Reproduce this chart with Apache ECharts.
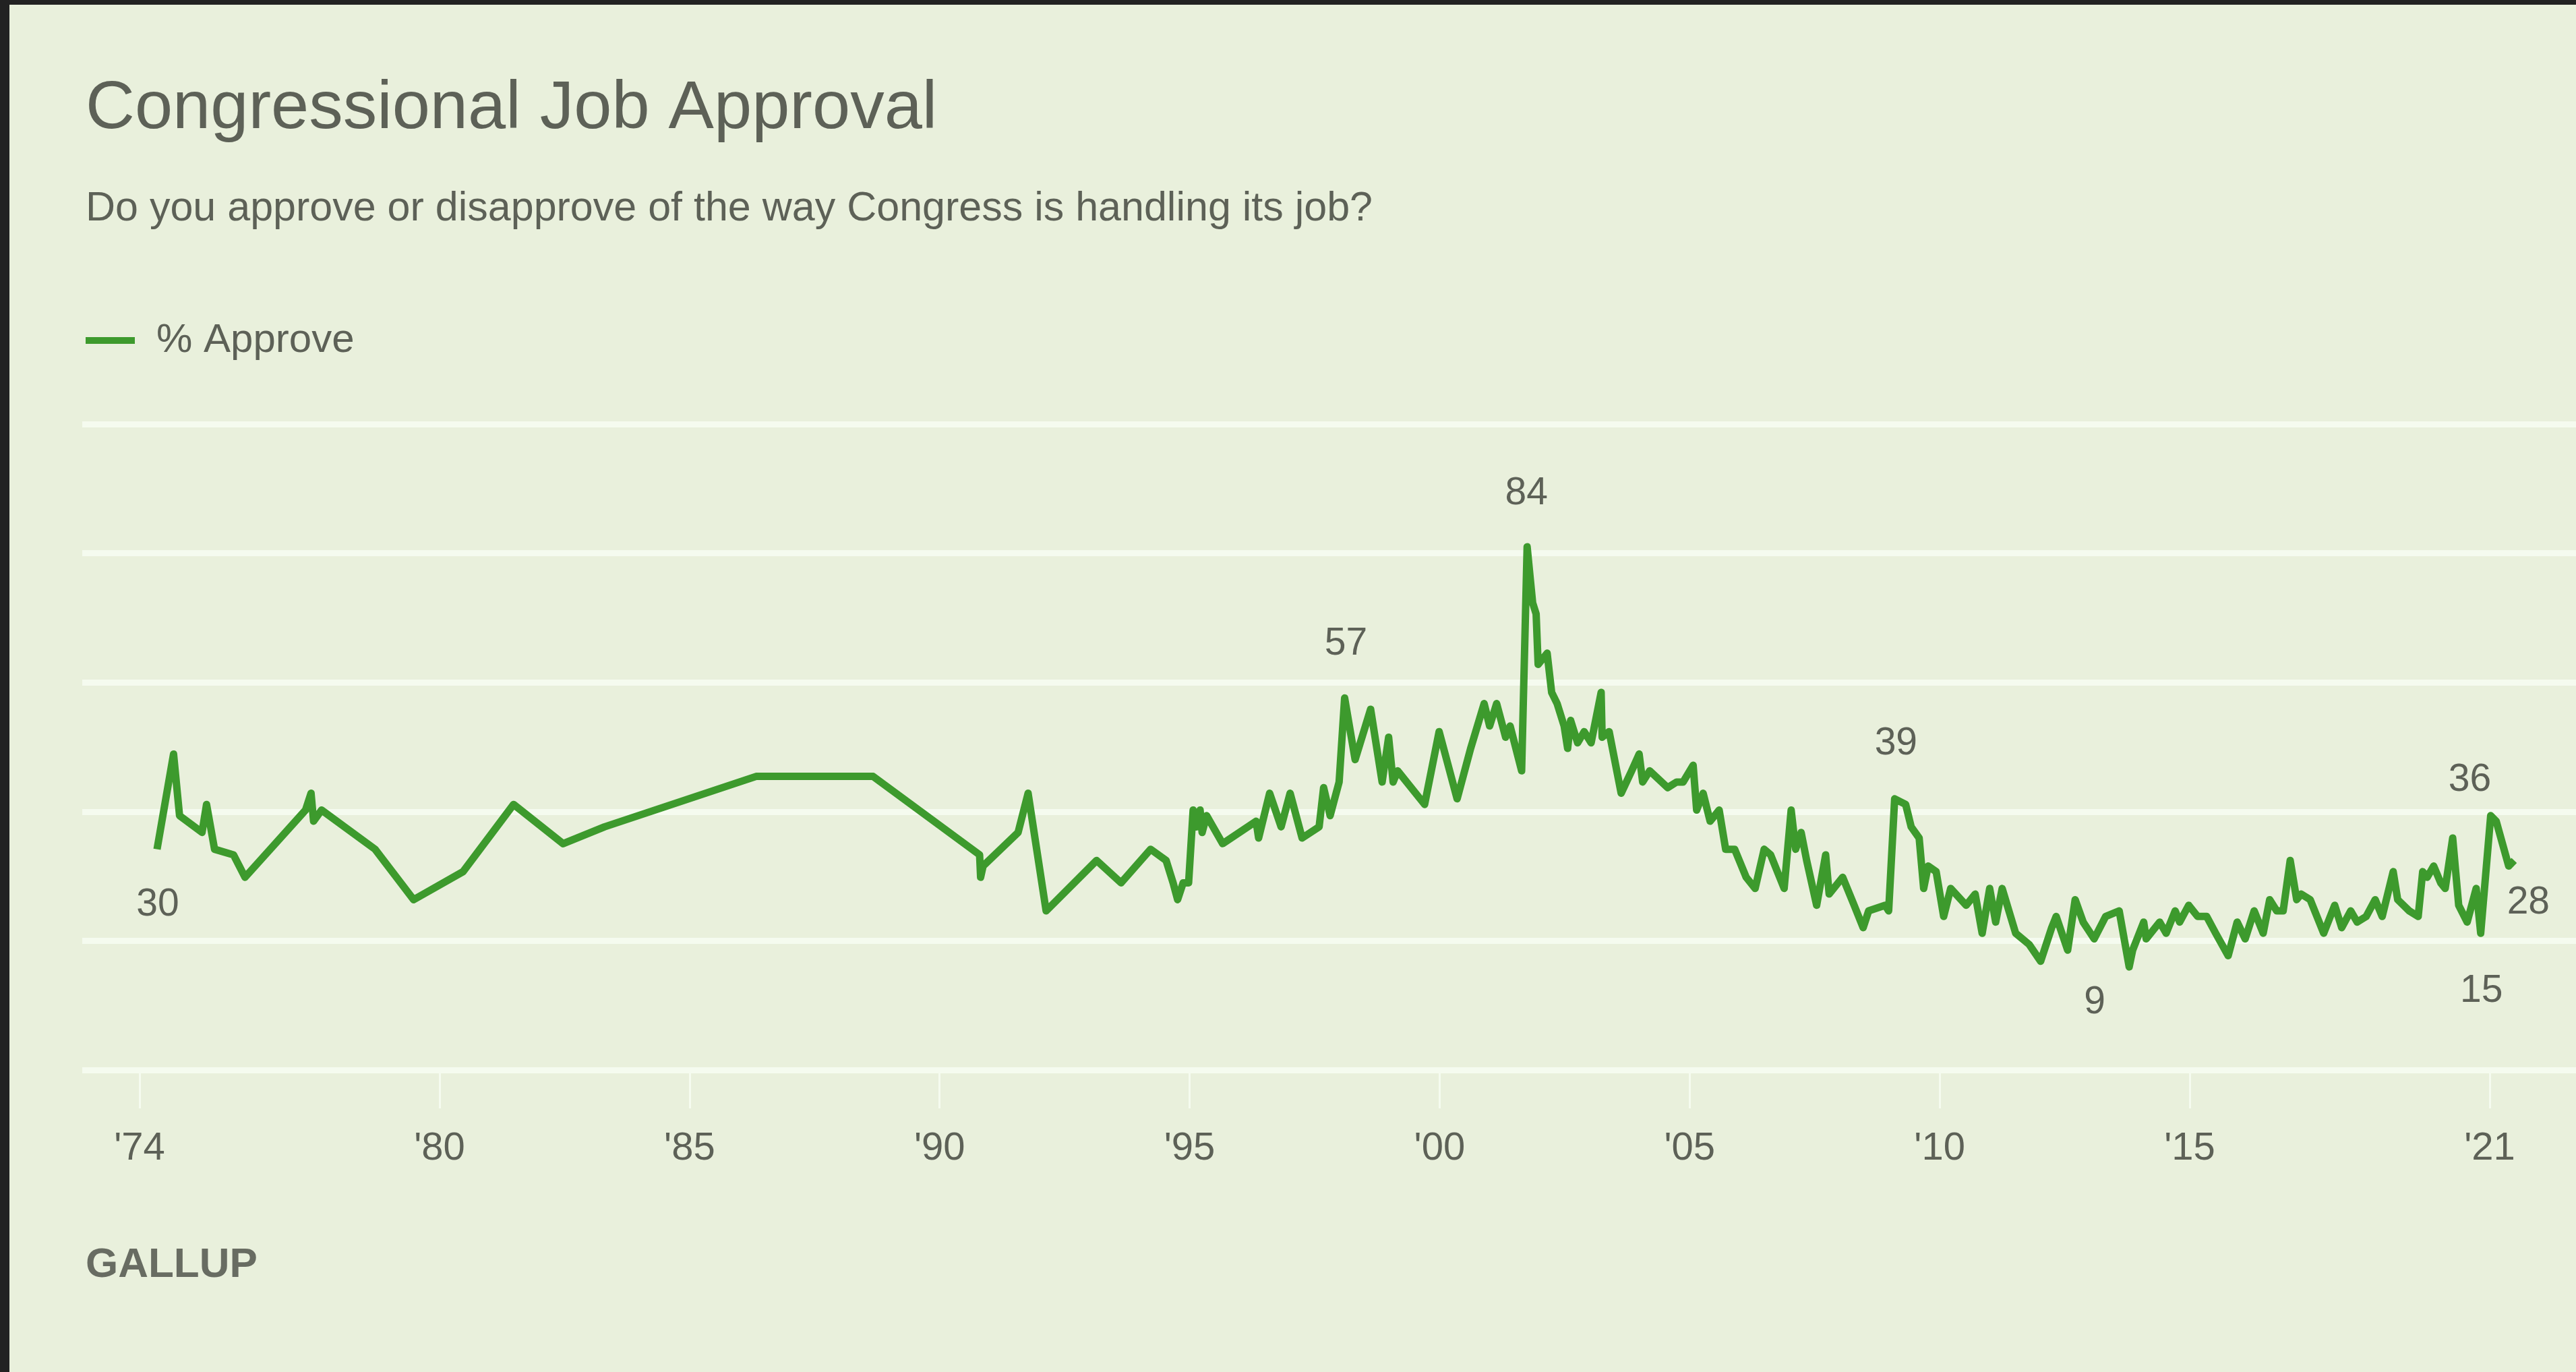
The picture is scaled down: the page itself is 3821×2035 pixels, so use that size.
<!DOCTYPE html>
<html>
<head>
<meta charset="utf-8">
<title>Congressional Job Approval</title>
<script src="https://cdn.jsdelivr.net/npm/echarts@6/dist/echarts.min.js"></script>
<style>
  html, body { margin: 0; padding: 0; background: #222; overflow: hidden; }
  #chart { position: absolute; left: 0; top: 0; width: 3821px; height: 2035px; }
  .edge-left { position: absolute; left: 0; top: 0; width: 14px; height: 2035px; background: #222; }
  .edge-top { position: absolute; left: 0; top: 0; width: 3821px; height: 7px; background: #222; }
</style>
</head>
<body>
<div id="chart"></div>
<div class="edge-left"></div>
<div class="edge-top"></div>
<script>
// Poll dates as decimal years
const pollTime = [
  1974.35, 1974.68, 1974.80, 1975.25, 1975.34, 1975.50, 1975.88, 1976.11,
  1977.32, 1977.43, 1977.48, 1977.64, 1978.71, 1979.48, 1980.47, 1981.48,
  1982.47, 1983.30, 1986.33, 1988.67, 1990.80, 1990.82, 1990.87, 1991.57,
  1991.77, 1992.13, 1993.14, 1993.63, 1994.22, 1994.53, 1994.67, 1994.76,
  1994.87, 1994.98, 1995.07, 1995.14, 1995.21, 1995.25, 1995.34, 1995.66,
  1996.33, 1996.38, 1996.60, 1996.83, 1997.01, 1997.25, 1997.59, 1997.68,
  1997.81, 1997.99, 1998.10, 1998.31, 1998.62, 1998.85, 1998.98, 1999.07,
  1999.16, 1999.70, 1999.99, 2000.35, 2000.62, 2000.89, 2001.00, 2001.14,
  2001.32, 2001.41, 2001.64, 2001.75, 2001.86, 2001.93, 2001.97, 2002.15,
  2002.24, 2002.35, 2002.49, 2002.56, 2002.62, 2002.76, 2002.89, 2003.03,
  2003.23, 2003.25, 2003.39, 2003.63, 2003.84, 2003.99, 2004.06, 2004.20,
  2004.56, 2004.74, 2004.87, 2005.07, 2005.14, 2005.27, 2005.41, 2005.59,
  2005.72, 2005.90, 2006.13, 2006.31, 2006.49, 2006.62, 2006.89, 2007.03,
  2007.12, 2007.23, 2007.34, 2007.54, 2007.72, 2007.79, 2008.06, 2008.29,
  2008.47, 2008.58, 2008.91, 2008.98, 2009.10, 2009.32, 2009.43, 2009.59,
  2009.68, 2009.77, 2009.93, 2010.08, 2010.22, 2010.53, 2010.71, 2010.85,
  2011.00, 2011.12, 2011.25, 2011.52, 2011.79, 2012.02, 2012.24, 2012.33,
  2012.56, 2012.71, 2012.87, 2013.09, 2013.32, 2013.59, 2013.79, 2013.86,
  2014.08, 2014.13, 2014.40, 2014.53, 2014.71, 2014.80, 2014.98, 2015.16,
  2015.34, 2015.52, 2015.77, 2015.95, 2016.11, 2016.29, 2016.47, 2016.60,
  2016.74, 2016.87, 2017.01, 2017.14, 2017.23, 2017.41, 2017.68, 2017.90,
  2018.04, 2018.22, 2018.35, 2018.53, 2018.71, 2018.85, 2019.07, 2019.16,
  2019.39, 2019.57, 2019.66, 2019.75, 2019.88, 2020.02, 2020.11, 2020.26,
  2020.38, 2020.55, 2020.73, 2020.82, 2021.02, 2021.13, 2021.38, 2021.49
];

// % approve for each poll
const approve = [
  30, 47, 36, 33, 38, 30, 29, 25,
  37, 40, 35, 37, 30, 21, 26, 38,
  31, 34, 43, 43, 29, 25, 27, 33,
  40, 19, 28, 24, 30, 28, 24, 21,
  24, 24, 37, 34, 37, 33, 36, 31,
  35, 32, 40, 34, 40, 32, 34, 41,
  36, 42, 57, 46, 55, 42, 50, 42,
  44, 38, 51, 39, 48, 56, 52, 56,
  50, 52, 44, 84, 74, 72, 63, 65,
  58, 56, 52, 48, 53, 49, 51, 49,
  58, 50, 51, 40, 44, 47, 42, 44,
  41, 42, 42, 45, 37, 40, 35, 37,
  30, 30, 25, 23, 30, 29, 23, 37,
  30, 33, 28, 20, 29, 22, 25, 20,
  16, 19, 20, 19, 39, 38, 34, 32,
  23, 27, 26, 18, 23, 20, 22, 15,
  23, 17, 23, 15, 13, 10, 16, 18,
  12, 21, 17, 14, 18, 19, 9, 12,
  17, 14, 17, 15, 19, 17, 20, 18,
  18, 15, 11, 17, 14, 19, 15, 21,
  19, 19, 28, 21, 22, 21, 15, 20,
  16, 19, 17, 18, 21, 18, 26, 21,
  19, 18, 26, 25, 27, 24, 23, 32,
  20, 17, 23, 15, 36, 35, 27, 28
];

// Years that get an axis tick and label
const tickYears = [1974, 1980, 1985, 1990, 1995, 2000, 2005, 2010, 2015, 2021];

// Polls that carry a value callout: [poll date, label offset from the point]
const callouts = [
  [1974.35, [1, 83]],
  [1998.10, [2, -80]],
  [2001.75, [-1, -79]],
  [2009.10, [2, -82]],
  [2013.79, [-51, 53]],
  [2020.82, [1, 86]],
  [2021.02, [-31, -53]],
  [2021.49, [21, 63]]
];

const FONT = '"Liberation Sans", Arial, sans-serif';
const TEXT = '#5d6157';
const GREEN = '#3d9a2d';
const GRID_LINE = '#f5fbef';

const calloutByIndex = new Map(callouts.map(([t, off]) => [pollTime.indexOf(t), off]));

const seriesData = pollTime.map((t, i) => {
  const off = calloutByIndex.get(i);
  if (!off) return [t, approve[i]];
  return {
    value: [t, approve[i]],
    label: { show: true, position: 'inside', offset: off }
  };
});

const chart = echarts.init(document.getElementById('chart'), null, { renderer: 'canvas' });

chart.setOption({
  animation: false,
  backgroundColor: '#e9f0dc',
  title: [
    {
      text: 'Congressional Job Approval',
      left: 122, top: 107,
      textStyle: { fontFamily: FONT, fontSize: 101, fontWeight: 'normal', color: TEXT }
    },
    {
      text: 'Do you approve or disapprove of the way Congress is handling its job?',
      left: 122, top: 275,
      textStyle: { fontFamily: FONT, fontSize: 61, fontWeight: 'normal', color: TEXT }
    },
    {
      text: 'GALLUP',
      left: 122, top: 1841,
      textStyle: { fontFamily: FONT, fontSize: 62, fontWeight: 'bold', color: '#686c62' }
    }
  ],
  legend: {
    data: ['% Approve'],
    left: 122, top: 470,
    icon: 'rect', itemWidth: 73, itemHeight: 10,
    selectedMode: false,
    textStyle: { fontFamily: FONT, fontSize: 60, color: TEXT, padding: [0, 0, 0, 27] }
  },
  grid: { left: 122, right: 0, top: 629, bottom: 448, containLabel: false },
  xAxis: {
    type: 'value',
    min: 1972.854, max: 2022.726,
    axisLine: { show: false, onZero: false },
    splitLine: { show: false },
    axisTick: { show: true, customValues: tickYears, length: 57, lineStyle: { color: GRID_LINE, width: 3 } },
    axisLabel: {
      customValues: tickYears,
      margin: 88,
      fontFamily: FONT, fontSize: 58, color: TEXT,
      formatter: v => "'" + String(v).slice(2)
    }
  },
  yAxis: [
    {
      type: 'value', min: -9.4, max: 105.9,
      axisLine: { show: false }, axisTick: { show: false },
      axisLabel: { show: false }, splitLine: { show: false }
    },
    {
      type: 'value', min: 0, max: 5, interval: 1,
      axisLine: { show: false }, axisTick: { show: false },
      axisLabel: { show: false },
      splitLine: { show: true, lineStyle: { color: GRID_LINE, width: 9 } }
    }
  ],
  series: [{
    name: '% Approve',
    type: 'line',
    yAxisIndex: 0,
    data: seriesData,
    color: GREEN,
    showSymbol: true, showAllSymbol: true,
    symbol: 'circle', symbolSize: 0,
    lineStyle: { color: GREEN, width: 11, join: 'round' },
    label: { show: false, fontFamily: FONT, fontSize: 57, color: TEXT, formatter: p => String(p.value[1]) },
    emphasis: { disabled: true },
    z: 5
  }]
});
</script>
</body>
</html>
